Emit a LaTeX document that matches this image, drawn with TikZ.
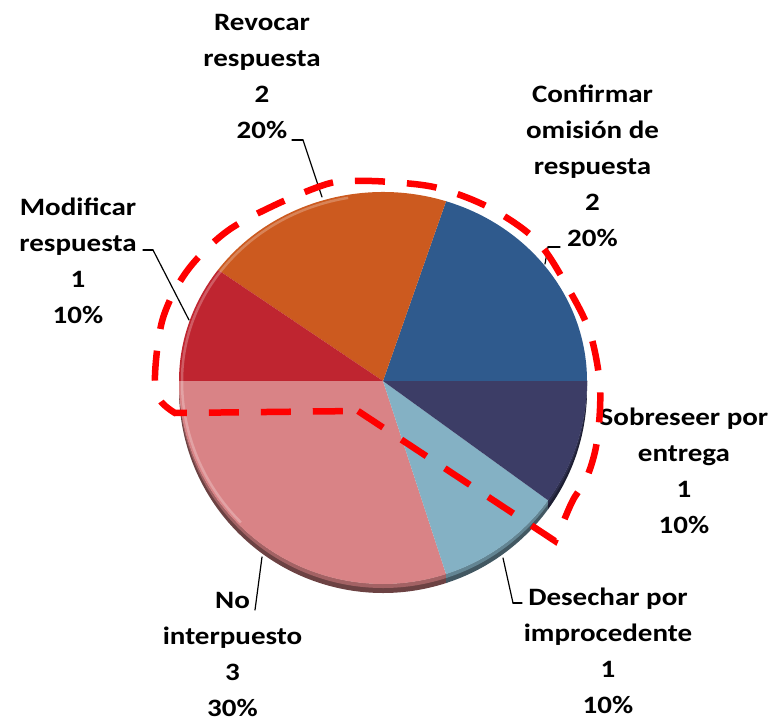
\documentclass[tikz,border=0pt]{standalone}
\usepackage{fontspec}
\usepackage{tkz-euclide}
\setmainfont{Carlito}[FakeStretch=1.16]
\tikzset{>=stealth}
\definecolor{cazul}{HTML}{2F5A8D}
\definecolor{cnaranja}{HTML}{CC5A1F}
\definecolor{crojo}{HTML}{BF2530}
\definecolor{crosa}{HTML}{D98386}
\definecolor{celeste}{HTML}{84B1C4}
\definecolor{cmarino}{HTML}{3C3D66}
\tikzset{etiq/.style={font=\bfseries\fontsize{25}{36}\selectfont, align=center, inner sep=0pt},
  guia/.style={black, line width=1.2pt},
  marca/.style={red, line width=6.5pt, dash pattern=on 30pt off 22pt}}

\begin{document}
\begin{tikzpicture}[x=1pt,y=1pt]
\useasboundingbox (0,0) rectangle (773,721);
\tkzDefPoints{383/340/O}
% canto inferior del pastel
\foreach \ini/\fin/\col in {180/288/crosa,288/324/celeste,324/360/cmarino}{
  \fill[\col!50!black] (O) ++(\ini:204pt and 203pt) arc[start angle=\ini, end angle=\fin, x radius=204pt, y radius=203pt]
    -- ++(0,-9) arc[start angle=\fin, end angle=\ini, x radius=204pt, y radius=203pt] -- cycle;
  \fill[\col!75!black] (O) ++(\ini:204pt and 203pt) arc[start angle=\ini, end angle=\fin, x radius=204pt, y radius=203pt]
    -- ++(0,-4) arc[start angle=\fin, end angle=\ini, x radius=204pt, y radius=203pt] -- cycle;}
% caras
\foreach \ini/\fin/\col/\ry in {0/72/cazul/189,72/144/cnaranja/189,144/180/crojo/189,180/288/crosa/203,288/324/celeste/203,324/360/cmarino/203}
  \fill[\col] (O) -- ++(\ini:204pt and \ry pt) arc[start angle=\ini, end angle=\fin, x radius=204pt, y radius=\ry pt] -- cycle;
% brillo del borde
\draw[white, opacity=.25, line width=2.5pt] (O) ++(100:201pt and 186pt) arc[start angle=100, end angle=180, x radius=201pt, y radius=186pt]
  arc[start angle=180, end angle=225, x radius=201pt, y radius=200pt];
% etiquetas
\node[etiq] (revocar) at (262,644.5) {Revocar\\respuesta\\2\\20\%};
\node[etiq] (modificar) at (78,460.6) {Modificar\\respuesta\\1\\10\%};
\node[etiq] (confirmar) at (592.5,555.3) {Confirmar\\omisión de\\respuesta\\2\\20\%};
\node[etiq] (sobreseer) at (684,250.6) {Sobreseer por\\entrega\\1\\10\%};
\node[etiq] (desechar) at (608,70.6) {Desechar por\\improcedente\\1\\10\%};
\node[etiq] (nointer) at (232.5,67) {No\\interpuesto\\3\\30\%};
% guias
\tkzDefPoints{292/581/r1, 303/581/r2, 322/524/r3, 143/471/m1, 153/471/m2, 189/401/m3,
  560/474/c1, 548/474/c2, 545/457/c3, 522/118/d1, 513/118/d2, 503/163/d3, 255/111/n1, 262/164/n2}
\tkzDrawSegments[guia](r1,r2 r2,r3 m1,m2 m2,m3 c1,c2 c2,c3 d1,d2 d2,d3 n1,n2)
% marca roja
\tkzDefPoints{358/310/k1, 555/180/k2}
\draw[marca] (k1) -- plot[smooth, tension=0.55] coordinates {(555,180) (562,196) (573,221) (587,244) (597,280)
  (600,334) (590,388) (568,433) (537,480) (490,513) (438,533) (390,539) (355,540) (327,537) (275,516)
  (226,489) (187,450) (163,403) (155,346) (160,321) (175,308)} -- cycle;
\end{tikzpicture}
\end{document}
